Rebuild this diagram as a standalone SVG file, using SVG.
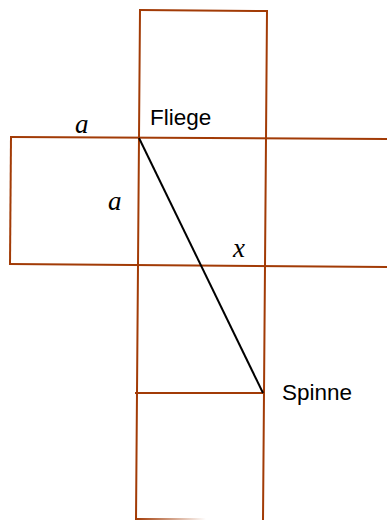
<svg xmlns="http://www.w3.org/2000/svg" width="387" height="520" viewBox="0 0 387 520">
<defs>
<linearGradient id="fade" x1="0" x2="1" y1="0" y2="0">
<stop offset="0" stop-color="#a23b06"/>
<stop offset="1" stop-color="#a23b06" stop-opacity="0"/>
</linearGradient>
</defs>
<style>
.e{stroke:#a23b06;stroke-width:2;fill:none;stroke-linecap:square}
.d{stroke:#000;stroke-width:2;fill:none}
.lbl{font-family:"Liberation Sans",Arial,sans-serif;font-size:22.5px;fill:#000}
.m{font-family:"Liberation Serif","Times New Roman",serif;font-style:italic;font-size:27px;fill:#000}
</style>
<rect width="387" height="520" fill="#fff"/>
<g id="net">
<line class="e" x1="140" y1="10" x2="267" y2="11"/>
<line class="e" x1="140" y1="10" x2="136" y2="520"/>
<line class="e" x1="267" y1="11" x2="263" y2="520"/>
<line class="e" x1="11" y1="137" x2="387" y2="139"/>
<line class="e" x1="11" y1="137" x2="10" y2="264"/>
<line class="e" x1="10" y1="264" x2="387" y2="267"/>
<line class="e" x1="136" y1="393" x2="263" y2="393"/>
<rect x="136" y="518" width="70" height="2" fill="url(#fade)"/>
</g>
<g id="path">
<line class="d" x1="139" y1="138" x2="263" y2="393"/>
</g>
<g id="labels">
<text class="lbl" x="150" y="125">Fliege</text>
<text class="lbl" x="282" y="400">Spinne</text>
<text class="m" x="75" y="133">a</text>
<text class="m" x="108" y="210">a</text>
<text class="m" x="233" y="257">x</text>
</g>
</svg>
